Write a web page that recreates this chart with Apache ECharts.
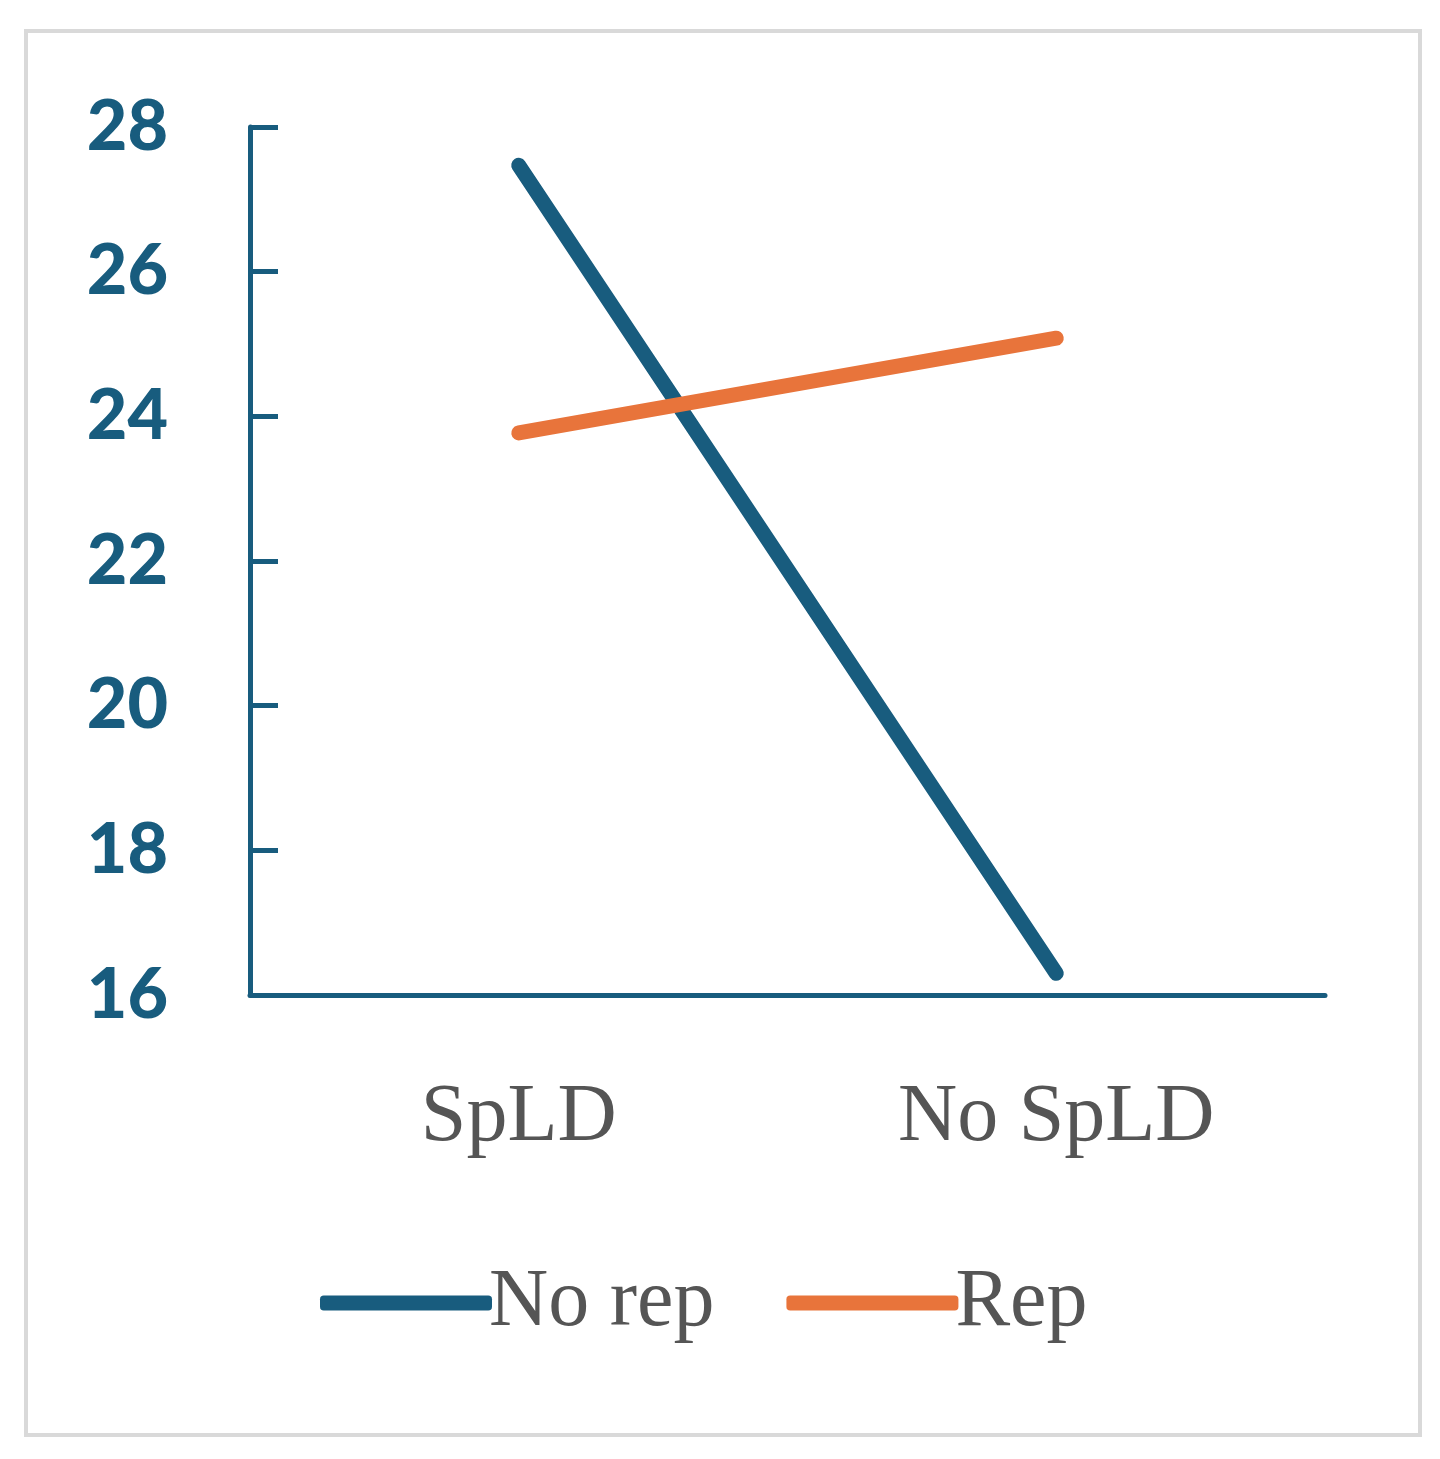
<!DOCTYPE html>
<html><head><meta charset="utf-8">
<script src="https://cdn.jsdelivr.net/npm/echarts@6/dist/echarts.min.js"></script>
<style>
html,body{margin:0;padding:0;background:#fff;}
#frame{position:absolute;left:24px;top:29px;width:1390px;height:1400px;border:4px solid #d9d9d9;}
#c{position:absolute;left:0;top:0;width:1440px;height:1459px;}
</style></head><body>
<div id="frame"></div>
<div id="c"></div>
<script>
const categories = ['SpLD', 'No SpLD'];
const noRep = [27.47, 16.3];
const rep = [23.77, 25.08];
const yTicks = [16, 18, 20, 22, 24, 26, 28];
const teal = '#185c7e', orange = '#e8743b';
const chart = echarts.init(document.getElementById('c'));
chart.setOption({
  animation: false,
  grid: {left: 250, right: 115, top: 127, bottom: 464},
  xAxis: {
    type: 'category', data: categories, boundaryGap: true,
    axisLine: {lineStyle: {color: teal, width: 5}},
    axisTick: {show: false},
    axisLabel: {color: '#555', fontFamily: 'Liberation Serif', fontSize: 82, margin: 82}
  },
  yAxis: {
    type: 'value', min: 16, max: 28, interval: 2,
    axisLine: {show: true, lineStyle: {color: teal, width: 5}},
    axisTick: {show: true, inside: true, length: 28, lineStyle: {color: teal, width: 5}},
    splitLine: {show: false},
    axisLabel: {color: teal, fontFamily: 'Lato', fontWeight: 900, fontSize: 70, margin: 82, letterSpacing: -7,
      formatter: v => yTicks.includes(v) ? String(v) : ''}
  },
  legend: {
    bottom: 110, left: 315, itemWidth: 172, itemHeight: 15, itemGap: 72,
    textStyle: {color: '#555', fontFamily: 'Liberation Serif', fontSize: 82, padding: [0,0,0,-8]},
    data: [{name: 'No rep', icon: 'roundRect'}, {name: 'Rep', icon: 'roundRect'}]
  },
  series: [
    {name: 'No rep', type: 'line', data: noRep, symbol: 'none', color: teal,
     lineStyle: {width: 15, cap: 'round', color: teal}},
    {name: 'Rep', type: 'line', data: rep, symbol: 'none', color: orange,
     lineStyle: {width: 15, cap: 'round', color: orange}}
  ]
});
</script></body></html>
